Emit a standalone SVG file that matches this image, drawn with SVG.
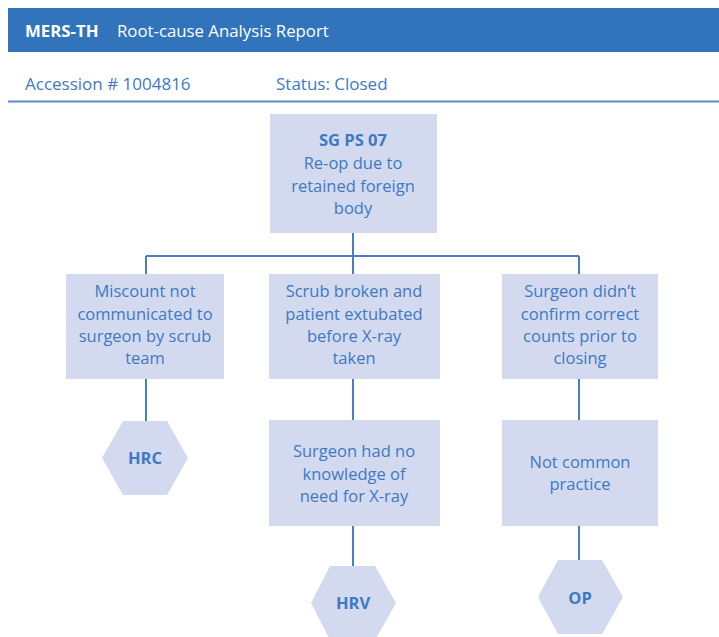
<svg xmlns="http://www.w3.org/2000/svg" width="719" height="637" viewBox="0 0 719 637">
<defs>
<style>
.box{fill:#D3D9EE}
.t{font-family:"Open Sans","Noto Sans",sans-serif;font-size:16.5px;fill:#3D7AC2;text-anchor:middle}
.b{font-weight:bold}
.hex{fill:#D3D9EE}
.ln{stroke:#4A7EC0;stroke-width:2;fill:none}
.hd{font-family:"Open Sans","Noto Sans",sans-serif;font-size:16.8px;fill:#ffffff}
.sub{font-family:"Open Sans","Noto Sans",sans-serif;font-size:17px;fill:#3D7AC2}
</style>
</defs>
<rect x="0" y="0" width="719" height="637" fill="#ffffff"/>
<g id="header">
<rect x="8" y="8" width="711" height="44" fill="#3174BC"/>
<text class="hd b" x="25" y="37">MERS-TH</text>
<text class="hd" x="117" y="37">Root-cause Analysis Report</text>
<text class="sub" x="25" y="90">Accession # 1004816</text>
<text class="sub" x="276" y="90">Status: Closed</text>
<line x1="8" y1="101.5" x2="719" y2="101.5" stroke="#5B8BCB" stroke-width="2"/>
</g>
<g id="connectors">
<path class="ln" d="M353 232V256M146 256H579M146 256V274M353 256V274M579 256V274"/>
<path class="ln" d="M146 379V421M353 379V420M579 379V420M353 526V566M579 526V560"/>
</g>
<g id="root">
<rect class="box" x="270" y="114" width="167" height="119"/>
<text class="t b" x="353" y="146">SG PS 07</text>
<text class="t" x="353" y="169">Re-op due to</text>
<text class="t" x="353" y="192">retained foreign</text>
<text class="t" x="353" y="214">body</text>
</g>
<g id="n1">
<rect class="box" x="66" y="274" width="158" height="105"/>
<text class="t" x="145" y="297">Miscount not</text>
<text class="t" x="145" y="320">communicated to</text>
<text class="t" x="145" y="342">surgeon by scrub</text>
<text class="t" x="145" y="364">team</text>
</g>
<g id="n2">
<rect class="box" x="269" y="274" width="171" height="105"/>
<text class="t" x="354" y="297">Scrub broken and</text>
<text class="t" x="354" y="320">patient extubated</text>
<text class="t" x="354" y="342">before X-ray</text>
<text class="t" x="354" y="364">taken</text>
</g>
<g id="n3">
<rect class="box" x="502" y="274" width="156" height="105"/>
<text class="t" x="580" y="297">Surgeon didn’t</text>
<text class="t" x="580" y="320">confirm correct</text>
<text class="t" x="580" y="342">counts prior to</text>
<text class="t" x="580" y="364">closing</text>
</g>
<g id="n4">
<rect class="box" x="269" y="420" width="171" height="106"/>
<text class="t" x="354" y="457">Surgeon had no</text>
<text class="t" x="354" y="480">knowledge of</text>
<text class="t" x="354" y="502">need for X-ray</text>
</g>
<g id="n5">
<rect class="box" x="502" y="420" width="156" height="106"/>
<text class="t" x="580" y="468">Not common</text>
<text class="t" x="580" y="490">practice</text>
</g>
<g id="hrc">
<polygon class="hex" points="123,421 167,421 188,458 167,495 123,495 102,458"/>
<text class="t b" x="145" y="464">HRC</text>
</g>
<g id="hrv">
<polygon class="hex" points="330,566 375,566 396,603 375,640 330,640 311,603"/>
<text class="t b" x="353" y="609">HRV</text>
</g>
<g id="op">
<polygon class="hex" points="558,560 602,560 623,597 602,634 558,634 538,597"/>
<text class="t b" x="580" y="604">OP</text>
</g>
</svg>
